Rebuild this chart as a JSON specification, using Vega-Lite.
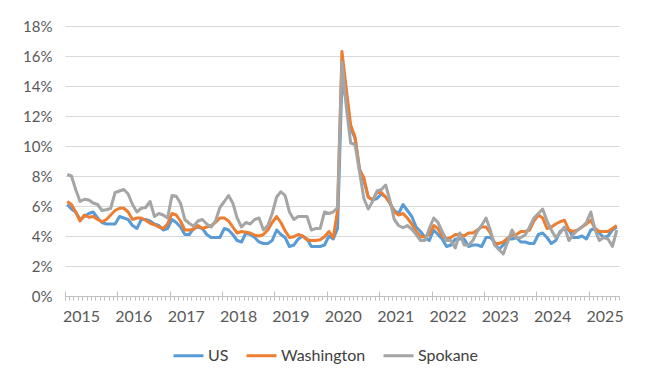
{
 "$schema": "https://vega.github.io/schema/vega-lite/v6.json",
 "width": 554,
 "height": 270,
 "autosize": {"type": "none"},
 "padding": {"left": 65, "top": 26, "right": 31, "bottom": 82},
 "background": "white",
 "config": {"view": {"stroke": null}, "font": "Lato"},
 "data": {"values": [
  {"d":"2015-01","US":6.1,"Washington":6.3,"Spokane":8.1},
  {"d":"2015-02","US":5.8,"Washington":6.1,"Spokane":8.0},
  {"d":"2015-03","US":5.6,"Washington":5.6,"Spokane":7.1},
  {"d":"2015-04","US":5.1,"Washington":5.0,"Spokane":6.3},
  {"d":"2015-05","US":5.3,"Washington":5.4,"Spokane":6.45},
  {"d":"2015-06","US":5.5,"Washington":5.25,"Spokane":6.4},
  {"d":"2015-07","US":5.6,"Washington":5.3,"Spokane":6.2},
  {"d":"2015-08","US":5.2,"Washington":5.1,"Spokane":6.1},
  {"d":"2015-09","US":4.9,"Washington":4.95,"Spokane":5.7},
  {"d":"2015-10","US":4.8,"Washington":5.1,"Spokane":5.75},
  {"d":"2015-11","US":4.8,"Washington":5.4,"Spokane":5.85},
  {"d":"2015-12","US":4.8,"Washington":5.7,"Spokane":6.9},
  {"d":"2016-01","US":5.3,"Washington":5.85,"Spokane":7.0},
  {"d":"2016-02","US":5.2,"Washington":5.85,"Spokane":7.1},
  {"d":"2016-03","US":5.1,"Washington":5.6,"Spokane":6.8},
  {"d":"2016-04","US":4.7,"Washington":5.1,"Spokane":6.1},
  {"d":"2016-05","US":4.5,"Washington":5.2,"Spokane":5.6},
  {"d":"2016-06","US":5.1,"Washington":5.2,"Spokane":5.85},
  {"d":"2016-07","US":5.1,"Washington":5.05,"Spokane":5.9},
  {"d":"2016-08","US":5.0,"Washington":4.85,"Spokane":6.3},
  {"d":"2016-09","US":4.8,"Washington":4.75,"Spokane":5.3},
  {"d":"2016-10","US":4.7,"Washington":4.6,"Spokane":5.5},
  {"d":"2016-11","US":4.4,"Washington":4.5,"Spokane":5.4},
  {"d":"2016-12","US":4.5,"Washington":4.8,"Spokane":5.2},
  {"d":"2017-01","US":5.1,"Washington":5.5,"Spokane":6.7},
  {"d":"2017-02","US":4.9,"Washington":5.4,"Spokane":6.65},
  {"d":"2017-03","US":4.6,"Washington":5.0,"Spokane":6.2},
  {"d":"2017-04","US":4.1,"Washington":4.4,"Spokane":5.1},
  {"d":"2017-05","US":4.1,"Washington":4.4,"Spokane":4.85},
  {"d":"2017-06","US":4.5,"Washington":4.45,"Spokane":4.65},
  {"d":"2017-07","US":4.6,"Washington":4.7,"Spokane":5.0},
  {"d":"2017-08","US":4.5,"Washington":4.5,"Spokane":5.1},
  {"d":"2017-09","US":4.1,"Washington":4.6,"Spokane":4.8},
  {"d":"2017-10","US":3.9,"Washington":4.7,"Spokane":4.6},
  {"d":"2017-11","US":3.9,"Washington":4.9,"Spokane":5.0},
  {"d":"2017-12","US":3.9,"Washington":5.2,"Spokane":5.9},
  {"d":"2018-01","US":4.5,"Washington":5.2,"Spokane":6.3},
  {"d":"2018-02","US":4.4,"Washington":5.0,"Spokane":6.7},
  {"d":"2018-03","US":4.1,"Washington":4.6,"Spokane":6.2},
  {"d":"2018-04","US":3.7,"Washington":4.2,"Spokane":5.2},
  {"d":"2018-05","US":3.6,"Washington":4.3,"Spokane":4.6},
  {"d":"2018-06","US":4.2,"Washington":4.25,"Spokane":4.9},
  {"d":"2018-07","US":4.1,"Washington":4.2,"Spokane":4.8},
  {"d":"2018-08","US":3.9,"Washington":4.05,"Spokane":5.1},
  {"d":"2018-09","US":3.6,"Washington":4.0,"Spokane":5.2},
  {"d":"2018-10","US":3.5,"Washington":4.1,"Spokane":4.4},
  {"d":"2018-11","US":3.5,"Washington":4.4,"Spokane":4.7},
  {"d":"2018-12","US":3.7,"Washington":4.9,"Spokane":5.5},
  {"d":"2019-01","US":4.4,"Washington":5.3,"Spokane":6.6},
  {"d":"2019-02","US":4.1,"Washington":4.9,"Spokane":6.95},
  {"d":"2019-03","US":3.9,"Washington":4.35,"Spokane":6.7},
  {"d":"2019-04","US":3.3,"Washington":3.9,"Spokane":5.6},
  {"d":"2019-05","US":3.4,"Washington":3.95,"Spokane":5.1},
  {"d":"2019-06","US":3.8,"Washington":4.1,"Spokane":5.3},
  {"d":"2019-07","US":4.0,"Washington":4.0,"Spokane":5.3},
  {"d":"2019-08","US":3.8,"Washington":3.75,"Spokane":5.3},
  {"d":"2019-09","US":3.3,"Washington":3.7,"Spokane":4.4},
  {"d":"2019-10","US":3.3,"Washington":3.7,"Spokane":4.5},
  {"d":"2019-11","US":3.3,"Washington":3.75,"Spokane":4.5},
  {"d":"2019-12","US":3.4,"Washington":3.95,"Spokane":5.6},
  {"d":"2020-01","US":4.0,"Washington":4.3,"Spokane":5.5},
  {"d":"2020-02","US":3.8,"Washington":3.9,"Spokane":5.6},
  {"d":"2020-03","US":4.5,"Washington":5.7,"Spokane":5.9},
  {"d":"2020-04","US":14.4,"Washington":16.3,"Spokane":15.6},
  {"d":"2020-05","US":13.0,"Washington":13.8,"Spokane":12.6},
  {"d":"2020-06","US":11.2,"Washington":11.4,"Spokane":10.2},
  {"d":"2020-07","US":10.5,"Washington":10.6,"Spokane":10.1},
  {"d":"2020-08","US":8.5,"Washington":8.4,"Spokane":8.3},
  {"d":"2020-09","US":7.7,"Washington":7.9,"Spokane":6.5},
  {"d":"2020-10","US":6.6,"Washington":6.6,"Spokane":5.8},
  {"d":"2020-11","US":6.4,"Washington":6.4,"Spokane":6.3},
  {"d":"2020-12","US":6.5,"Washington":6.9,"Spokane":7.0},
  {"d":"2021-01","US":6.8,"Washington":6.9,"Spokane":7.1},
  {"d":"2021-02","US":6.6,"Washington":6.6,"Spokane":7.4},
  {"d":"2021-03","US":6.2,"Washington":6.2,"Spokane":6.4},
  {"d":"2021-04","US":5.7,"Washington":5.6,"Spokane":5.1},
  {"d":"2021-05","US":5.5,"Washington":5.4,"Spokane":4.7},
  {"d":"2021-06","US":6.1,"Washington":5.5,"Spokane":4.55},
  {"d":"2021-07","US":5.7,"Washington":5.2,"Spokane":4.7},
  {"d":"2021-08","US":5.3,"Washington":4.8,"Spokane":4.45},
  {"d":"2021-09","US":4.6,"Washington":4.3,"Spokane":4.1},
  {"d":"2021-10","US":4.3,"Washington":3.95,"Spokane":3.7},
  {"d":"2021-11","US":3.9,"Washington":3.95,"Spokane":3.7},
  {"d":"2021-12","US":3.7,"Washington":4.1,"Spokane":4.5},
  {"d":"2022-01","US":4.4,"Washington":4.7,"Spokane":5.2},
  {"d":"2022-02","US":4.1,"Washington":4.5,"Spokane":4.9},
  {"d":"2022-03","US":3.8,"Washington":4.0,"Spokane":4.3},
  {"d":"2022-04","US":3.3,"Washington":3.8,"Spokane":3.7},
  {"d":"2022-05","US":3.4,"Washington":3.9,"Spokane":3.7},
  {"d":"2022-06","US":3.8,"Washington":4.1,"Spokane":3.2},
  {"d":"2022-07","US":3.8,"Washington":4.1,"Spokane":4.2},
  {"d":"2022-08","US":3.8,"Washington":4.0,"Spokane":3.4},
  {"d":"2022-09","US":3.3,"Washington":4.2,"Spokane":3.4},
  {"d":"2022-10","US":3.4,"Washington":4.2,"Spokane":3.7},
  {"d":"2022-11","US":3.4,"Washington":4.4,"Spokane":4.3},
  {"d":"2022-12","US":3.3,"Washington":4.6,"Spokane":4.7},
  {"d":"2023-01","US":3.9,"Washington":4.6,"Spokane":5.2},
  {"d":"2023-02","US":3.9,"Washington":4.2,"Spokane":4.4},
  {"d":"2023-03","US":3.6,"Washington":3.5,"Spokane":3.4},
  {"d":"2023-04","US":3.1,"Washington":3.5,"Spokane":3.1},
  {"d":"2023-05","US":3.4,"Washington":3.6,"Spokane":2.8},
  {"d":"2023-06","US":3.8,"Washington":3.85,"Spokane":3.6},
  {"d":"2023-07","US":3.8,"Washington":4.05,"Spokane":4.4},
  {"d":"2023-08","US":3.9,"Washington":4.1,"Spokane":3.85},
  {"d":"2023-09","US":3.6,"Washington":4.3,"Spokane":3.9},
  {"d":"2023-10","US":3.6,"Washington":4.3,"Spokane":4.07},
  {"d":"2023-11","US":3.5,"Washington":4.4,"Spokane":4.6},
  {"d":"2023-12","US":3.5,"Washington":5.0,"Spokane":5.2},
  {"d":"2024-01","US":4.1,"Washington":5.4,"Spokane":5.5},
  {"d":"2024-02","US":4.2,"Washington":5.2,"Spokane":5.8},
  {"d":"2024-03","US":3.9,"Washington":4.5,"Spokane":5.0},
  {"d":"2024-04","US":3.5,"Washington":4.6,"Spokane":4.4},
  {"d":"2024-05","US":3.7,"Washington":4.8,"Spokane":3.9},
  {"d":"2024-06","US":4.3,"Washington":4.95,"Spokane":4.2},
  {"d":"2024-07","US":4.5,"Washington":5.05,"Spokane":4.6},
  {"d":"2024-08","US":4.4,"Washington":4.4,"Spokane":3.7},
  {"d":"2024-09","US":3.9,"Washington":4.3,"Spokane":4.1},
  {"d":"2024-10","US":3.9,"Washington":4.4,"Spokane":4.4},
  {"d":"2024-11","US":4.0,"Washington":4.6,"Spokane":4.6},
  {"d":"2024-12","US":3.8,"Washington":4.8,"Spokane":4.9},
  {"d":"2025-01","US":4.4,"Washington":5.05,"Spokane":5.6},
  {"d":"2025-02","US":4.5,"Washington":4.5,"Spokane":4.4},
  {"d":"2025-03","US":4.2,"Washington":4.3,"Spokane":3.7},
  {"d":"2025-04","US":3.9,"Washington":4.3,"Spokane":3.9},
  {"d":"2025-05","US":4.0,"Washington":4.3,"Spokane":3.8},
  {"d":"2025-06","US":4.4,"Washington":4.5,"Spokane":3.3},
  {"d":"2025-07","US":4.6,"Washington":4.7,"Spokane":4.4}
 ]},
 "transform": [{"fold": ["US", "Washington", "Spokane"], "as": ["series", "v"]}],
 "layer": [
  {
   "mark": {"type": "line", "strokeWidth": 3, "strokeJoin": "round"},
   "encoding": {
    "x": {
     "field": "d", "type": "temporal", "timeUnit": "utcyearmonth", "bandPosition": 0.5,
     "scale": {"domain": [{"year": 2015, "month": 1, "date": 1, "utc": true}, {"year": 2025, "month": 8, "date": 1, "utc": true}]},
     "axis": {
      "orient": "bottom", "title": null, "grid": false,
      "tickCount": {"interval": "month", "step": 1},
      "tickSize": 4, "tickColor": "#BFBFBF", "tickWidth": 1,
      "domainColor": "#BFBFBF", "domainWidth": 1,
      "labelExpr": "utcmonth(datum.value) === 0 ? utcFormat(datum.value, '%Y') : ''",
      "labelOverlap": false, "labelFlush": false, "labelBound": false,
      "labelOffset": 16, "labelPadding": 8,
      "labelFont": "Lato", "labelFontSize": 16, "labelColor": "#595959"
     }
    },
    "y": {
     "field": "v", "type": "quantitative",
     "scale": {"domain": [0, 18], "nice": false},
     "axis": {
      "title": null, "values": [0, 2, 4, 6, 8, 10, 12, 14, 16, 18],
      "labelExpr": "datum.value + '%'", "labelOverlap": false,
      "domain": false, "ticks": false, "labelPadding": 13,
      "grid": true, "gridColor": "#D9D9D9", "gridWidth": 1,
      "labelFont": "Lato", "labelFontSize": 15, "labelColor": "#595959"
     }
    },
    "color": {
     "field": "series", "type": "nominal",
     "scale": {"domain": ["US", "Washington", "Spokane"], "range": ["#5B9BD5", "#ED7D31", "#A5A5A5"]},
     "legend": {
      "orient": "none", "legendX": 107, "legendY": 313, "direction": "horizontal",
      "title": null, "symbolType": "stroke", "symbolSize": 900, "symbolStrokeWidth": 3,
      "labelFont": "Lato", "labelFontSize": 16, "labelColor": "#404040",
      "columnPadding": 11, "labelOffset": 3, "padding": 0
     }
    }
   }
  },
  {
   "mark": {"type": "line", "opacity": 0},
   "encoding": {
    "x": {
     "field": "d", "type": "temporal", "timeUnit": "utcyearmonth", "bandPosition": 0.5,
     "axis": {
      "orient": "bottom", "title": null, "grid": false, "labels": false, "domain": false,
      "tickCount": {"interval": "year", "step": 1},
      "tickSize": 9, "offset": -5, "tickColor": "#BFBFBF", "tickWidth": 1
     }
    },
    "y": {
     "field": "v", "type": "quantitative",
     "axis": {
      "title": null, "values": [0, 2, 4, 6, 8, 10, 12, 14, 16, 18],
      "labelExpr": "datum.value + '%'", "labelOverlap": false,
      "domain": false, "ticks": false, "labelPadding": 13,
      "grid": true, "gridColor": "#D9D9D9", "gridWidth": 1,
      "labelFont": "Lato", "labelFontSize": 15, "labelColor": "#595959"
     }
    },
    "detail": {"field": "series"}
   }
  }
 ],
 "resolve": {"axis": {"x": "independent"}}
}
